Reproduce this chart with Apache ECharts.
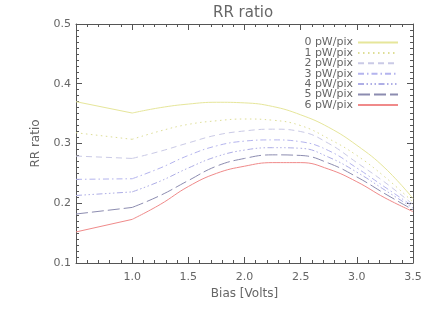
<!DOCTYPE html>
<html>
<head>
<meta charset="utf-8">
<script src="https://cdn.jsdelivr.net/npm/echarts@6/dist/echarts.min.js"></script>
<style>html,body{margin:0;padding:0;background:#fff}#c{width:436px;height:312px}</style>
</head>
<body>
<div id="c"></div>
<script>
var bias = [0.5, 1.0, 1.25, 1.5, 1.75, 2.0, 2.25, 2.5, 2.75, 3.0, 3.25, 3.5];
var names = ['0 pW/pix','1 pW/pix','2 pW/pix','3 pW/pix','4 pW/pix','5 pW/pix','6 pW/pix'];
var r0 = [0.370, 0.351, 0.360, 0.366, 0.369, 0.368, 0.362, 0.348, 0.327, 0.297, 0.259, 0.208];
var r1 = [0.318, 0.307, 0.321, 0.332, 0.338, 0.341, 0.339, 0.330, 0.308, 0.280, 0.244, 0.202];
var r2 = [0.279, 0.275, 0.287, 0.301, 0.314, 0.321, 0.324, 0.320, 0.300, 0.268, 0.235, 0.198];
var r3 = [0.240, 0.241, 0.259, 0.280, 0.296, 0.304, 0.306, 0.303, 0.288, 0.259, 0.227, 0.195];
var r4 = [0.213, 0.219, 0.237, 0.259, 0.278, 0.289, 0.293, 0.292, 0.277, 0.252, 0.222, 0.192];
var r5 = [0.182, 0.193, 0.213, 0.238, 0.262, 0.275, 0.281, 0.280, 0.267, 0.244, 0.216, 0.189];
var r6 = [0.152, 0.173, 0.198, 0.228, 0.250, 0.262, 0.268, 0.268, 0.257, 0.236, 0.209, 0.186];
var yTicks = [0.1, 0.2, 0.3, 0.4, 0.5];

var values = [r0, r1, r2, r3, r4, r5, r6];
var colors = ['#e6e69a', '#dede96', '#cacae6', '#b4b4ee', '#aeaee6', '#8c8cb0', '#f08a8a'];
var dashes = ['solid', [1.5, 3.5], [6, 4], [6, 3, 1.5, 3], [6, 2.5, 1.5, 2.5, 1.5, 2.5, 1.5, 2.5], [12, 4], 'solid'];

var series = [];
values.forEach(function (v, i) {
  var pts = bias.map(function (b, j) { return [b, v[j]]; });
  var ls = { color: colors[i], width: 1, type: dashes[i] };
  series.push({ name: names[i], type: 'line', data: pts.slice(0, 2), symbol: 'none', lineStyle: ls, itemStyle: { color: colors[i] }, silent: true, z: 10 - i });
  series.push({ name: names[i], type: 'line', data: pts.slice(1), symbol: 'none', smooth: 0.45, lineStyle: ls, itemStyle: { color: colors[i] }, silent: true, z: 10 - i });
});

var txt = '#666';
var axc = '#555';
var font = 'DejaVu Sans';
function xAx(pos, show) {
  return {
    type: 'value', position: pos, min: 0.5, max: 3.5, interval: 0.5,
    axisLine: { show: true, onZero: false, lineStyle: { color: axc, width: 1 } },
    axisTick: { show: true, inside: true, length: 6, lineStyle: { color: axc } },
    minorTick: { show: true, splitNumber: 5, length: 3, lineStyle: { color: axc } },
    splitLine: { show: false },
    axisLabel: show ? { color: txt, fontFamily: font, fontSize: 11, margin: 9,
      formatter: function (v) { return Math.abs(v - 0.5) < 1e-9 ? '' : v.toFixed(1); } } : { show: false },
    name: show ? 'Bias [Volts]' : '', nameLocation: 'middle', nameGap: 24,
    nameTextStyle: { color: txt, fontFamily: font, fontSize: 12 }
  };
}
function yAx(pos, show) {
  return {
    type: 'value', position: pos, min: yTicks[0], max: yTicks[yTicks.length - 1], interval: 0.1,
    axisLine: { show: true, onZero: false, lineStyle: { color: axc, width: 1 } },
    axisTick: { show: true, inside: true, length: 6, lineStyle: { color: axc } },
    minorTick: { show: true, splitNumber: 10, length: 3, lineStyle: { color: axc } },
    splitLine: { show: false },
    axisLabel: show ? { color: txt, fontFamily: font, fontSize: 11, margin: 5,
      formatter: function (v) { return v.toFixed(1); } } : { show: false },
    name: show ? 'RR ratio' : '', nameLocation: 'middle', nameGap: 34, nameRotate: 90,
    nameTextStyle: { color: txt, fontFamily: font, fontSize: 12 }
  };
}

var chart = echarts.init(document.getElementById('c'), null, { renderer: 'canvas' });
chart.setOption({
  animation: false,
  backgroundColor: '#fff',
  title: { text: 'RR ratio', left: 208, top: 1, textStyle: { color: txt, fontFamily: font, fontSize: 15, fontWeight: 'normal' } },
  grid: { left: 76, right: 23, top: 24, bottom: 49 },
  xAxis: [xAx('bottom', true), xAx('top', false)],
  yAxis: [yAx('left', true), yAx('right', false)],
  legend: {
    data: names, orient: 'vertical', right: 37, top: 37, align: 'right',
    itemWidth: 40, itemHeight: 10, itemGap: -0.6, padding: 0,
    itemStyle: { opacity: 0 },
    textStyle: { color: txt, fontFamily: font, fontSize: 11, lineHeight: 10 },
    selectedMode: false
  },
  series: series
});
</script>
</body>
</html>
